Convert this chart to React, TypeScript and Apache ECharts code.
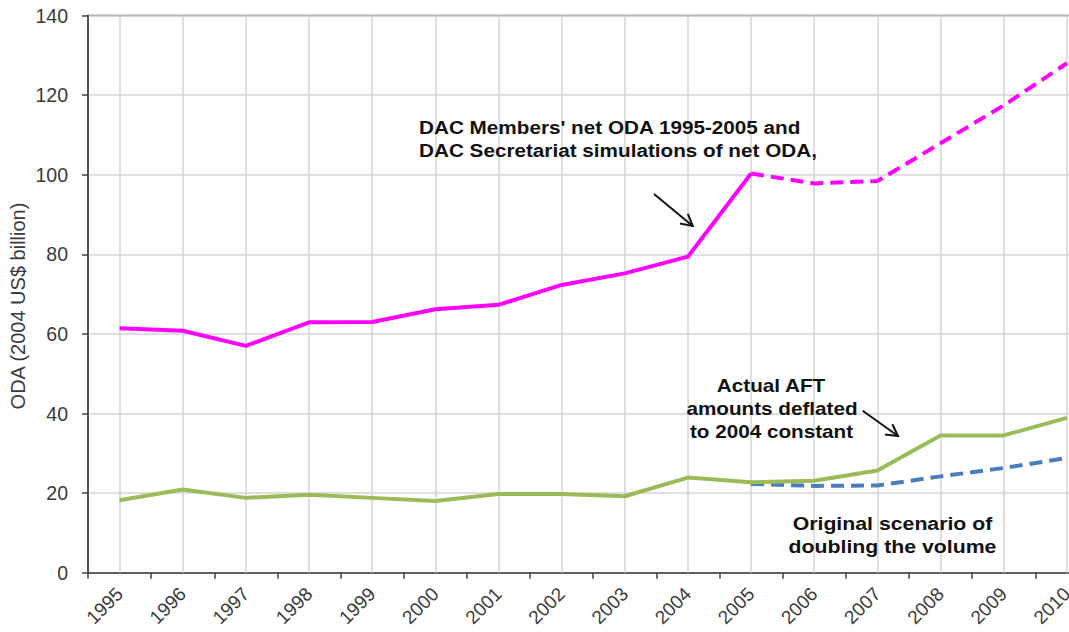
import React, { useEffect, useRef } from "react";
import * as echarts from "echarts";

const years = ["1995", "1996", "1997", "1998", "1999", "2000", "2001", "2002", "2003", "2004", "2005", "2006", "2007", "2008", "2009", "2010"];
// DAC Members' net ODA 1995-2005 (actual)
const odaActual = [61.4, 60.8, 57.0, 62.9, 63.0, 66.2, 67.3, 72.3, 75.2, 79.4, 100.3];
// DAC Secretariat simulations 2005-2010
const odaSimulated = [100.3, 97.8, 98.4, 107.9, 117.4, 128.0];
// Actual AFT amounts deflated to 2004 constant
const aftActual = [18.2, 20.9, 18.8, 19.6, 18.8, 18.0, 19.8, 19.8, 19.2, 23.9, 22.7, 23.1, 25.7, 34.5, 34.5, 38.9];
// Original scenario of doubling the volume 2005-2010
const originalScenario = [22.3, 21.8, 21.9, 24.2, 26.3, 28.8];
const yTicks = { min: 0, max: 140, interval: 20 };

const FONT = "'Liberation Sans', Arial, sans-serif";

function padEnd(vals: number[]) {
  return years.map((_, i) => (i < vals.length ? vals[i] : null));
}
function padStart(vals: number[]) {
  const off = years.length - vals.length;
  return years.map((_, i) => (i >= off ? vals[i - off] : null));
}

function arrow(x1: number, y1: number, x2: number, y2: number, len = 13, ang = 0.5) {
  const a = Math.atan2(y1 - y2, x1 - x2);
  const p1 = [x2 + len * Math.cos(a + ang), y2 + len * Math.sin(a + ang)];
  const p2 = [x2 + len * Math.cos(a - ang), y2 + len * Math.sin(a - ang)];
  const style = { stroke: "#111", lineWidth: 2, fill: null as any };
  return [
    { type: "line", shape: { x1, y1, x2, y2 }, style, z: 10 },
    { type: "polyline", shape: { points: [p1, [x2, y2], p2] }, style, z: 10 },
  ];
}

function txt(text: string, x: number, y: number, opts: any = {}) {
  return {
    type: "text",
    x,
    y,
    z: 10,
    scaleX: opts.scaleX ?? 1,
    rotation: opts.rotation ?? 0,
    style: {
      text,
      fill: opts.fill ?? "#111",
      font: `${opts.weight ?? "bold"} ${opts.size ?? 18}px ${FONT}`,
      align: opts.align ?? "left",
      verticalAlign: "middle",
    },
  };
}

export default function App() {
  const ref = useRef<HTMLDivElement>(null);
  useEffect(() => {
    const chart = echarts.init(ref.current!, null, { renderer: "svg" });
    const option: any = {
      animation: false,
      backgroundColor: "#ffffff",
      grid: {
        left: 88,
        top: 15.5,
        width: 1010.4,
        height: 557.2,
        show: true,
        borderColor: "#5a5a5a",
        borderWidth: 1.5,
        backgroundColor: "transparent",
      },
      xAxis: {
        type: "category",
        data: years,
        boundaryGap: true,
        axisLine: { show: true, lineStyle: { color: "#404040", width: 1.5 } },
        axisTick: { show: true, length: 6, inside: false, lineStyle: { color: "#404040", width: 1.5 } },
        axisLabel: { interval: 0, rotate: 45, fontSize: 19, color: "#3a3a3a", fontFamily: FONT, margin: 18 },
        splitLine: { show: false },
      },
      yAxis: {
        type: "value",
        min: yTicks.min,
        max: yTicks.max,
        interval: yTicks.interval,
        axisLine: { show: true, lineStyle: { color: "#404040", width: 1.5 } },
        axisTick: { show: true, length: 6, inside: false, lineStyle: { color: "#404040", width: 1.5 } },
        axisLabel: { fontSize: 19.5, color: "#3a3a3a", fontFamily: FONT, margin: 20 },
        splitLine: { show: true, lineStyle: { color: "#d4d4d4", width: 1.5 } },
      },
      series: [
        {
          name: "Original scenario of doubling the volume",
          type: "line",
          data: padStart(originalScenario),
          symbol: "none",
          z: 3,
          lineStyle: { color: "#4a7ebb", width: 4, type: [13, 7] },
        },
        {
          name: "Actual AFT amounts deflated to 2004 constant",
          type: "line",
          data: aftActual,
          symbol: "none",
          z: 4,
          lineStyle: { color: "#9bbb59", width: 4, join: "round" },
          markLine: {
            silent: true,
            z: 1,
            symbol: ["none", "none"],
            label: { show: false },
            lineStyle: { color: "#d4d4d4", width: 1.5, type: "solid" },
            emphasis: { disabled: true },
            data: years.map((y) => ({ xAxis: y })),
          },
        },
        {
          name: "DAC Members' net ODA 1995-2005",
          type: "line",
          data: padEnd(odaActual),
          symbol: "none",
          z: 5,
          lineStyle: { color: "#ff00ff", width: 4, join: "round" },
        },
        {
          name: "DAC Secretariat simulations of net ODA",
          type: "line",
          data: padStart(odaSimulated),
          symbol: "none",
          z: 5,
          lineStyle: { color: "#ff00ff", width: 4, type: [13, 7] },
        },
      ],
      graphic: [
        txt("ODA (2004 US$ billion)", 18, 306, { rotation: Math.PI / 2, align: "center", weight: "normal", size: 20, fill: "#3a3a3a" }),
        txt("DAC Members' net ODA 1995-2005 and", 419, 127, { size: 19, scaleX: 1.09 }),
        txt("DAC Secretariat simulations of net ODA,", 419, 150, { size: 19, scaleX: 1.09 }),
        ...arrow(654, 194, 692.7, 226),
        txt("Actual AFT", 771, 385.5, { align: "center", size: 18, scaleX: 1.15 }),
        txt("amounts deflated", 772, 408.8, { align: "center", size: 18, scaleX: 1.15 }),
        txt("to 2004 constant", 771.5, 431.8, { align: "center", size: 18, scaleX: 1.15 }),
        ...arrow(862.7, 410.7, 898, 436),
        txt("Original scenario of", 892.5, 523.5, { align: "center", size: 18.5, scaleX: 1.15 }),
        txt("doubling the volume", 892.5, 546.5, { align: "center", size: 18.5, scaleX: 1.15 }),
      ],
    };
    chart.setOption(option);
    return () => chart.dispose();
  }, []);
  return (
    <div style={{ position: "absolute", left: 0, top: 0, width: 1069, height: 632, overflow: "hidden" }}>
      <div ref={ref} style={{ width: 1110, height: 632 }} />
    </div>
  );
}
